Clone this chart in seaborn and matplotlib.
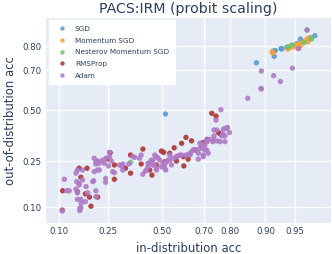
from statistics import NormalDist
import numpy as np
import pandas as pd
import matplotlib
matplotlib.use('Agg')
import matplotlib.pyplot as plt
import seaborn as sns

# accuracies (in-distribution, out-of-distribution)
sgd_id = [0.516, 0.879, 0.918, 0.920, 0.916, 0.931, 0.930, 0.939, 0.947, 0.953, 0.957, 0.959, 0.967, 0.971]
sgd_ood = [0.479, 0.734, 0.761, 0.784, 0.782, 0.790, 0.792, 0.796, 0.802, 0.810, 0.826, 0.819, 0.830, 0.837]

momentum_id = [0.914, 0.915, 0.940, 0.945, 0.946, 0.948, 0.951, 0.952, 0.954, 0.955, 0.957, 0.959,
               0.961, 0.963, 0.964, 0.965, 0.966, 0.955, 0.941]
momentum_ood = [0.779, 0.775, 0.792, 0.802, 0.798, 0.798, 0.805, 0.802, 0.792, 0.807, 0.802, 0.814,
                0.817, 0.819, 0.826, 0.817, 0.830, 0.805, 0.790]

nesterov_id = [0.347, 0.941, 0.947, 0.961, 0.968, 0.968, 0.964]
nesterov_ood = [0.245, 0.798, 0.805, 0.814, 0.826, 0.829, 0.855]

rmsprop_id = [0.107, 0.108, 0.146, 0.151, 0.156, 0.175, 0.170, 0.183, 0.188, 0.211,
              0.249, 0.259, 0.276, 0.276, 0.324, 0.347, 0.347, 0.397, 0.405, 0.438,
              0.449, 0.471, 0.496, 0.507, 0.512, 0.537, 0.559, 0.570, 0.595, 0.603,
              0.606, 0.616, 0.626, 0.642, 0.658, 0.692, 0.712, 0.757, 0.764, 0.731, 0.748]
rmsprop_ood = [0.093, 0.143, 0.140, 0.221, 0.187, 0.221, 0.134, 0.125, 0.102, 0.125,
               0.259, 0.286, 0.234, 0.180, 0.221, 0.276, 0.202, 0.238, 0.303, 0.214,
               0.195, 0.234, 0.294, 0.288, 0.247, 0.284, 0.309, 0.250, 0.330, 0.269,
               0.230, 0.359, 0.258, 0.342, 0.299, 0.333, 0.349, 0.383, 0.376, 0.483, 0.468]

adam_id = [0.107, 0.112, 0.118, 0.142, 0.146, 0.144, 0.151, 0.161, 0.161, 0.151,
           0.172, 0.142, 0.146, 0.124, 0.146, 0.157, 0.170, 0.153, 0.153, 0.177,
           0.197, 0.205, 0.199, 0.211, 0.205, 0.199, 0.211, 0.217, 0.230, 0.243,
           0.236, 0.252, 0.241, 0.241, 0.269, 0.276, 0.263, 0.256, 0.256, 0.298,
           0.308, 0.312, 0.312, 0.339, 0.358, 0.366, 0.389, 0.397, 0.405, 0.418,
           0.422, 0.430, 0.430, 0.438, 0.446, 0.454, 0.454, 0.463, 0.463, 0.471,
           0.471, 0.471, 0.479, 0.488, 0.496, 0.504, 0.512, 0.512, 0.517, 0.521,
           0.529, 0.537, 0.537, 0.546, 0.554, 0.570, 0.578, 0.587, 0.595, 0.616,
           0.631, 0.635, 0.642, 0.650, 0.662, 0.673, 0.673, 0.680, 0.680, 0.688,
           0.692, 0.695, 0.695, 0.702, 0.702, 0.710, 0.716, 0.710, 0.712, 0.721,
           0.735, 0.737, 0.740, 0.751, 0.764, 0.782, 0.751, 0.740, 0.748, 0.767,
           0.770, 0.774, 0.776, 0.782, 0.789, 0.791, 0.798, 0.782, 0.856, 0.890,
           0.891, 0.891, 0.917, 0.929, 0.947, 0.964, 0.955, 0.217, 0.194, 0.205,
           0.156, 0.156, 0.205]
adam_ood = [0.091, 0.180, 0.143, 0.202, 0.214, 0.172, 0.166, 0.214, 0.178, 0.161,
            0.156, 0.148, 0.137, 0.143, 0.119, 0.109, 0.113, 0.097, 0.092, 0.137,
            0.175, 0.126, 0.208, 0.214, 0.238, 0.262, 0.251, 0.241, 0.254, 0.262,
            0.241, 0.230, 0.183, 0.170, 0.208, 0.204, 0.251, 0.288, 0.269, 0.234,
            0.230, 0.238, 0.214, 0.238, 0.269, 0.266, 0.262, 0.276, 0.198, 0.210,
            0.214, 0.241, 0.227, 0.241, 0.254, 0.234, 0.254, 0.276, 0.234, 0.269,
            0.221, 0.214, 0.262, 0.254, 0.227, 0.241, 0.234, 0.221, 0.214, 0.247,
            0.254, 0.276, 0.254, 0.234, 0.262, 0.269, 0.272, 0.276, 0.276, 0.276,
            0.281, 0.276, 0.291, 0.299, 0.299, 0.284, 0.258, 0.306, 0.330, 0.327,
            0.306, 0.276, 0.269, 0.322, 0.299, 0.299, 0.284, 0.346, 0.338, 0.349,
            0.338, 0.349, 0.366, 0.342, 0.338, 0.338, 0.396, 0.396, 0.447, 0.502,
            0.366, 0.376, 0.399, 0.404, 0.404, 0.409, 0.383, 0.366, 0.562, 0.612,
            0.610, 0.697, 0.675, 0.647, 0.710, 0.855, 0.792, 0.214, 0.172, 0.143,
            0.119, 0.099, 0.247]

optimizers = ['SGD', 'Momentum SGD', 'Nesterov Momentum SGD', 'RMSProp', 'Adam']
colors = ['#5b9bd5', '#f7a13e', '#6cc56c', '#ad3434', '#b07ac6']
tick_vals = [0.10, 0.25, 0.50, 0.70, 0.80, 0.90, 0.95]
tick_labels = ['0.10', '0.25', '0.50', '0.70', '0.80', '0.90', '0.95']

frames = []
for name, xs, ys in zip(optimizers,
                        [sgd_id, momentum_id, nesterov_id, rmsprop_id, adam_id],
                        [sgd_ood, momentum_ood, nesterov_ood, rmsprop_ood, adam_ood]):
    frames.append(pd.DataFrame({'id_acc': xs, 'ood_acc': ys, 'optimizer': name}))
df = pd.concat(frames, ignore_index=True)

_nd = NormalDist()
_ppf = np.vectorize(_nd.inv_cdf, otypes=[float])
_cdf = np.vectorize(_nd.cdf, otypes=[float])


def probit(p):
    p = np.clip(np.asarray(p, dtype=float), 1e-6, 1 - 1e-6)
    return _ppf(p)


def inv_probit(z):
    return _cdf(np.asarray(z, dtype=float))


sns.set_style('darkgrid', {'axes.facecolor': '#E5ECF6', 'grid.color': 'white'})
plt.rcParams['font.family'] = ['DejaVu Sans']
text_col = '#2a3f5f'

fig = plt.figure(figsize=(3.32, 2.54), dpi=100)
ax = fig.add_axes([0.1386, 0.122, 0.8584, 0.807])
ax.set_xscale('function', functions=(probit, inv_probit))
ax.set_yscale('function', functions=(probit, inv_probit))

sns.scatterplot(data=df, x='id_acc', y='ood_acc', hue='optimizer', hue_order=optimizers,
                palette=dict(zip(optimizers, colors)), s=15, linewidth=0, alpha=0.9, ax=ax)

ax.set_xlim(0.0744, 0.982)
ax.set_ylim(0.0677, 0.888)
ax.set_xticks(tick_vals)
ax.set_xticklabels(tick_labels)
ax.set_yticks(tick_vals[:5])
ax.set_yticklabels(tick_labels[:5])
ax.minorticks_off()
ax.grid(True, color='white', linewidth=1.0)
ax.tick_params(axis='both', length=0, pad=3, labelsize=6.2, labelcolor=text_col)
for sp in ax.spines.values():
    sp.set_visible(False)

ax.set_xlabel('in-distribution acc', fontsize=8.4, color=text_col, labelpad=4)
ax.set_ylabel('out-of-distribution acc', fontsize=8.4, color=text_col, labelpad=4)
fig.text(0.568, 0.965, 'PACS:IRM (probit scaling)', ha='center', va='center',
         fontsize=10.2, color=text_col)

leg = ax.legend(loc='upper left', bbox_to_anchor=(0.01, 0.99), borderaxespad=0,
                fontsize=5.2, frameon=True, fancybox=False, framealpha=1,
                facecolor='white', edgecolor='white', markerscale=0.8,
                labelspacing=0.78, handletextpad=0.8, borderpad=0.8)
for t in leg.get_texts():
    t.set_color(text_col)

fig.savefig('out.png', dpi=100)
